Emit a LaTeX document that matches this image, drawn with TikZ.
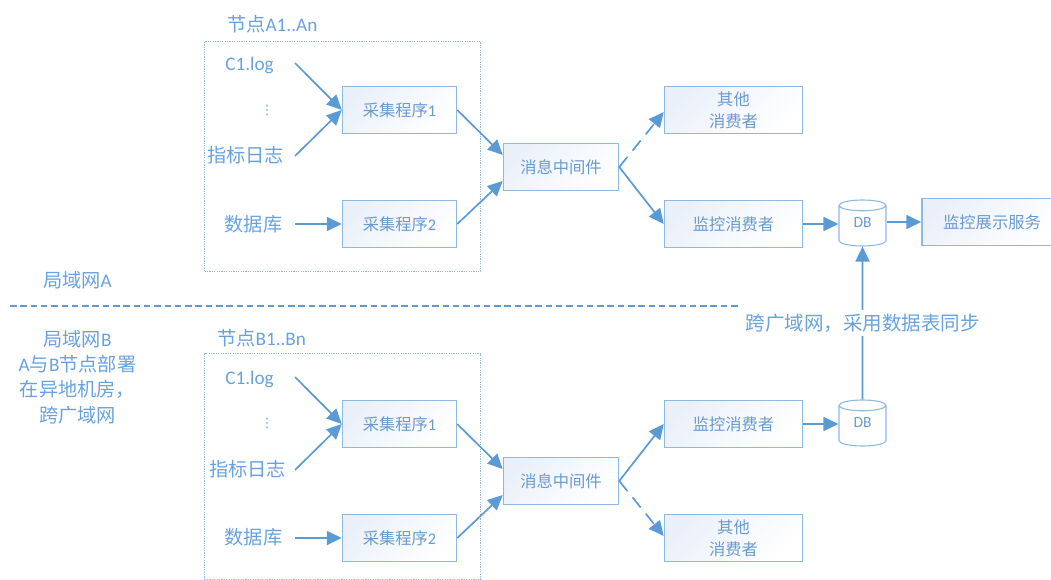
\documentclass[tikz,border=0pt]{standalone}
\usepackage{fontspec}
\setmainfont{Carlito}
\newfontfamily\cjk{Noto Sans CJK SC}
\newfontfamily\symf{DejaVu Sans}
\usetikzlibrary{arrows.meta,shapes.geometric,calc}
\definecolor{txt}{HTML}{68A2DE}
\definecolor{boxtxt}{HTML}{6A9BD0}
\definecolor{ln}{HTML}{5B9BD5}
\definecolor{edge}{HTML}{8DB9E2}
\definecolor{tint}{HTML}{EAF0FA}
\tikzset{
  x=1pt,y=-1pt,
  boxn/.style={draw=edge,line width=1.5pt,rectangle,minimum height=47pt,inner sep=0pt,align=center,
    text=boxtxt,font=\fontsize{16.3}{22}\selectfont,
    shade,shading=axis,top color=tint,bottom color=white,shading angle=45},
  sm/.style={minimum width=114pt},
  md/.style={minimum width=138pt},
  lb/.style={text=txt,inner sep=0pt,align=center,font=\fontsize{19.2}{25.4}\selectfont},
  dots/.style={text=txt,inner sep=0pt,font=\fontsize{13}{14}\selectfont},
  grp/.style={draw=edge,line width=1.1pt,dash pattern=on 1.2pt off 1.2pt,rectangle,inner sep=0pt,anchor=north west},
  ar/.style={draw=ln,line width=1.7pt,-{Triangle[length=15pt,width=14pt]}},
  ard/.style={ar,dash pattern=on 13pt off 8pt},
  dbn/.style={cylinder,anchor=shape center,shape border rotate=90,draw=edge,line width=1.1pt,aspect=0.6,fill=white,
    minimum height=46pt,minimum width=47pt,inner sep=0pt,text=boxtxt,font=\fontsize{15.5}{16}\selectfont},
}
\newcommand{\zh}[1]{{\cjk #1}}
\newcommand{\dblabel}{\smash{\raisebox{-2pt}{DB}}}
\begin{document}
\begin{tikzpicture}
\useasboundingbox (0,0) rectangle (1051,580);
% groups
\node[grp,minimum width=276pt,minimum height=230pt] (ga) at (204,41) {};
\node[grp,minimum width=276pt,minimum height=226pt] (gb) at (204,353) {};
\node[lb,anchor=west] (tga) at (227,24) {\zh{节点}A1..An};
\node[lb,anchor=west] (tgb) at (217,338) {\zh{节点}B1..Bn};
% separator
\coordinate (sl) at (10,306);
\coordinate (sr) at (738,306);
\draw[draw=ln,line width=1.2pt,dash pattern=on 6.5pt off 3.8pt] (sl) -- (sr);
\node[lb] (lana) at (77.5,280) {\zh{局域网}A};
\node[lb] (lanb) at (77.5,377) {\zh{局域网}B\\A\zh{与}B\zh{节点部署}\\\zh{在异地机房，}\\\zh{跨广域网}};
% upper sources
\node[lb] (c1a) at (249.5,65) {C1.log};
\node[dots] (dota) at (267,110) {\symf ⋮};
\node[lb] (ina) at (245.5,155) {\zh{指标日志}};
\node[lb] (dba) at (253.5,224) {\zh{数据库}};
\coordinate (c1ae) at (295,63);
\coordinate (inae) at (295,156);
\coordinate (dbae) at (295,224);
% lower sources
\node[lb] (c1b) at (249.5,379) {C1.log};
\node[dots] (dotb) at (267,423) {\symf ⋮};
\node[lb] (inb) at (247.5,469) {\zh{指标日志}};
\node[lb] (dbb) at (253.5,537) {\zh{数据库}};
\coordinate (c1be) at (295,377);
\coordinate (inbe) at (295,470);
\coordinate (dbbe) at (295,538);
% boxes upper
\node[boxn,sm] (pa1) at (399.5,110) {\zh{采集程序}1};
\node[boxn,sm] (pa2) at (399.5,224) {\zh{采集程序}2};
\node[boxn,sm,minimum width=115pt] (ma) at (561,167) {\zh{消息中间件}};
\node[boxn,md] (oa) at (733.5,110) {\zh{其他}\\\zh{消费者}};
\node[boxn,md] (ca) at (733.5,224) {\zh{监控消费者}};
\node[dbn] (da) at (862.5,223) {\dblabel};
\node[boxn,md,minimum width=140pt] (show) at (992,222) {\zh{监控展示服务}};
% boxes lower
\node[boxn,sm] (pb1) at (399.5,424) {\zh{采集程序}1};
\node[boxn,sm] (pb2) at (399.5,538) {\zh{采集程序}2};
\node[boxn,sm,minimum width=115pt] (mb) at (561,481) {\zh{消息中间件}};
\node[boxn,md] (cb) at (733.5,424) {\zh{监控消费者}};
\node[boxn,md] (ob) at (733.5,538) {\zh{其他}\\\zh{消费者}};
\node[dbn] (db) at (862.5,423) {\dblabel};
% connectors upper
\draw[ar] (c1ae) -- (pa1.west);
\draw[ar] (inae) -- (pa1.west);
\draw[ar] (dbae) -- (pa2.west);
\draw[ar] (pa1.east) -- ([yshift=12pt]ma.west);
\draw[ar] (pa2.east) -- ([yshift=-14pt]ma.west);
\draw[ard] (ma.east) -- ([yshift=-2pt]oa.west);
\draw[ar] (ma.east) -- (ca.west);
\draw[ar] (ca.east) -- (da.west |- ca.east);
\draw[ar] (da.east |- show.east) -- (show.west);
% connectors lower
\draw[ar] (c1be) -- (pb1.west);
\draw[ar] (inbe) -- (pb1.west);
\draw[ar] (dbbe) -- (pb2.west);
\draw[ar] (pb1.east) -- ([yshift=12pt]mb.west);
\draw[ar] (pb2.east) -- ([yshift=-14pt]mb.west);
\draw[ar] (mb.east) -- (cb.west);
\draw[ard] (mb.east) -- ([yshift=2pt]ob.west);
\draw[ar] (cb.east) -- (db.west |- cb.east);
\draw[ar] (db.north) -- (da.south);
\node[lb,fill=white,minimum height=26pt,inner xsep=1pt,font=\fontsize{19.5}{25}\selectfont] (wan) at (862.5,323) {\zh{跨广域网，采用数据表同步}};
\end{tikzpicture}
\end{document}
